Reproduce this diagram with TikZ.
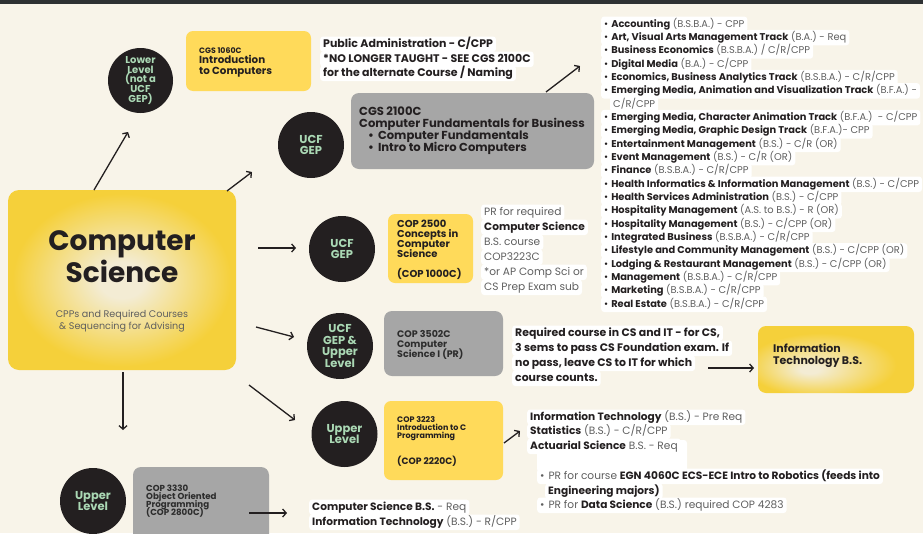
\documentclass[tikz,border=0pt]{standalone}
\usepackage{fontspec}
\setmainfont{Poppins}
\usetikzlibrary{arrows.meta,shapes.geometric}
\definecolor{bg}{RGB}{248,244,233}
\definecolor{ink}{RGB}{35,31,32}
\definecolor{mint}{RGB}{170,216,180}
\definecolor{yel}{RGB}{255,218,90}
\definecolor{csy}{RGB}{245,208,58}
\definecolor{csl}{RGB}{243,236,212}
\definecolor{gry}{RGB}{166,166,166}
\definecolor{txg}{RGB}{95,95,95}
\definecolor{dkg}{RGB}{45,45,45}
\definecolor{topbar}{RGB}{46,49,51}
\pgfdeclareradialshading{csshade}{\pgfpoint{0bp}{0bp}}{color(0bp)=(csl); color(5bp)=(csl); color(24bp)=(csy); color(50bp)=(csy)}
\pgfdeclareradialshading{itshade}{\pgfpoint{-9bp}{-8bp}}{color(0bp)=(csl); color(3bp)=(csl); color(24bp)=(csy); color(50bp)=(csy)}
\newcommand\fsz[2]{\fontsize{#1}{#2}\selectfont}
\newcommand\rl[4]{\node[hl,font=\fsz{9.85}{11}] (#1) at (601,#2) {\textbullet\hspace{3pt}\textbf{#3} {\color{txg}#4}};}
\tikzset{
  circ/.style={circle,fill=ink,minimum size=66pt,inner sep=0pt,text=mint,align=center,font=\bfseries\fsz{11.5}{11.7}},
  ybox/.style={fill=yel,rounded corners=7pt,inner sep=0pt},
  gbox/.style={fill=gry,rounded corners=8pt,inner sep=0pt},
  tl/.style={anchor=base west,inner sep=0pt,text=ink},
  hl/.style={anchor=base west,fill=white,rounded corners=3pt,inner xsep=3pt,inner ysep=2.5pt,text height=8pt,text depth=2.5pt,text=ink},
  arr/.style={draw=ink,line width=1.3pt,-{Straight Barb[length=3.5pt,width=8pt]}}
}
\begin{document}
\begin{tikzpicture}[x=1pt,y=-1pt]
\useasboundingbox (0,0) rectangle (923,533);
\fill[bg] (0,0) rectangle (923,533);
\fill[topbar] (0,0) rectangle (923,3.5);

% main box
\node[shade,shading=csshade,rounded corners=11pt,minimum width=228pt,minimum height=180pt,inner sep=0pt] (cs) at (122,280) {};
\node[anchor=base,inner sep=0pt,text=ink,font=\bfseries\fsz{28}{32}] (cst1) at (122,250) {Computer};
\node[anchor=base,inner sep=0pt,text=ink,font=\bfseries\fsz{28}{32}] (cst2) at (122,282) {Science};
\node[anchor=base,inner sep=0pt,text=txg,font=\fsz{9.6}{12}] (css1) at (122,317) {CPPs and Required Courses};
\node[anchor=base,inner sep=0pt,text=txg,font=\fsz{9.6}{12}] (css2) at (122,329) {\& Sequencing for Advising};

% circles
\node[circ,minimum size=65pt,font=\bfseries\fsz{10}{9.8}] (c1) at (140.5,80.5) {Lower\\Level\\(not a\\UCF\\GEP)};
\node[circ] (c2) at (311,145) {UCF\\GEP};
\node[circ] (c3) at (342,249) {UCF\\GEP};
\node[circ] (c4) at (340,346) {UCF\\GEP \&\\Upper\\Level};
\node[circ] (c5) at (344.5,434) {Upper\\Level};
\node[circ] (c6) at (93,501) {Upper\\Level};

% B1
\node[ybox,minimum width=125pt,minimum height=60pt] (b1) at (248.5,61) {};
\node[tl,font=\bfseries\fsz{7.8}{8}] (b1a) at (199,53) {CGS 1060C};
\node[tl,font=\bfseries\fsz{10.3}{11}] (b1b) at (199,63) {Introduction};
\node[tl,font=\bfseries\fsz{10.3}{11}] (b1c) at (199,74) {to Computers};

% T1
\node[hl,font=\bfseries\fsz{11}{12}] (t1a) at (320,47) {Public Administration - C/CPP};
\node[hl,font=\bfseries\fsz{11}{12}] (t1b) at (320,62) {*NO LONGER TAUGHT - SEE CGS 2100C};
\node[hl,font=\bfseries\fsz{11}{12}] (t1c) at (320,76) {for the alternate Course / Naming};

% B2
\node[gbox,minimum width=243pt,minimum height=76pt] (b2) at (472.5,131) {};
\node[tl,font=\bfseries\fsz{11.6}{12}] (b2a) at (359,115) {CGS 2100C};
\node[tl,font=\bfseries\fsz{11.6}{12}] (b2b) at (359,127) {Computer Fundamentals for Business};
\node[tl,font=\bfseries\fsz{11.6}{12}] (b2c) at (368,139) {\textbullet\hspace{4pt}Computer Fundamentals};
\node[tl,font=\bfseries\fsz{11.6}{12}] (b2d) at (368,151) {\textbullet\hspace{4pt}Intro to Micro Computers};

% right list
\rl{r0}{27}{Accounting}{(B.S.B.A.) - CPP}
\rl{r1}{40.33}{Art, Visual Arts Management Track}{(B.A.) - Req}
\rl{r2}{53.67}{Business Economics}{(B.S.B.A.) / C/R/CPP}
\rl{r3}{67}{Digital Media}{(B.A.) - C/CPP}
\rl{r4}{80.33}{Economics, Business Analytics Track}{(B.S.B.A.) - C/R/CPP}
\rl{r5}{93.67}{Emerging Media, Animation and Visualization Track}{(B.F.A.) -}
\node[hl,font=\fsz{9.85}{11}] (r6) at (610,107) {\color{txg}C/R/CPP};
\rl{r7}{120.33}{Emerging Media, Character Animation Track}{(B.F.A.)\ \ - C/CPP}
\rl{r8}{133.67}{Emerging Media, Graphic Design Track}{(B.F.A.)- CPP}
\rl{r9}{147}{Entertainment Management}{(B.S.) - C/R (OR)}
\rl{r10}{160.33}{Event Management}{(B.S.) - C/R (OR)}
\rl{r11}{173.67}{Finance}{(B.S.B.A.) - C/R/CPP}
\rl{r12}{187}{Health Informatics \& Information Management}{(B.S.) - C/CPP}
\rl{r13}{200.33}{Health Services Administration}{(B.S.) - C/CPP}
\rl{r14}{213.67}{Hospitality Management}{(A.S. to B.S.) - R (OR)}
\rl{r15}{227}{Hospitality Management}{(B.S.) - C/CPP (OR)}
\rl{r16}{240.33}{Integrated Business}{(B.S.B.A.) - C/R/CPP}
\rl{r17}{253.67}{Lifestyle and Community Management}{(B.S.) - C/CPP (OR)}
\rl{r18}{267}{Lodging \& Restaurant Management}{(B.S.) - C/CPP (OR)}
\rl{r19}{280.33}{Management}{(B.S.B.A.) - C/R/CPP}
\rl{r20}{293.67}{Marketing}{(B.S.B.A.) - C/R/CPP}
\rl{r21}{307}{Real Estate}{(B.S.B.A.) - C/R/CPP}

% B3
\node[ybox,minimum width=85pt,minimum height=69pt] (b3) at (430.5,248.5) {};
\node[tl,font=\bfseries\fsz{10}{10}] (b3a) at (397,227) {COP 2500};
\node[tl,font=\bfseries\fsz{10}{10}] (b3b) at (397,237) {Concepts in};
\node[tl,font=\bfseries\fsz{10}{10}] (b3c) at (397,247) {Computer};
\node[tl,font=\bfseries\fsz{10}{10}] (b3d) at (397,257) {Science};
\node[tl,font=\bfseries\fsz{10}{10}] (b3e) at (397,277) {(COP 1000C)};

% T3
\node[hl,font=\fsz{10.6}{11},text=txg] (t3a) at (481,215) {PR for required};
\node[hl,font=\bfseries\fsz{10.6}{11}] (t3b) at (481,230) {Computer Science};
\node[hl,font=\fsz{10.6}{11},text=txg] (t3c) at (481,245) {B.S. course};
\node[hl,font=\fsz{10.6}{11},text=txg] (t3d) at (481,260) {COP3223C};
\node[hl,font=\fsz{10.6}{11},text=txg] (t3e) at (481,275) {*or AP Comp Sci or};
\node[hl,font=\fsz{10.6}{11},text=txg] (t3f) at (481,290) {CS Prep Exam sub};

% B4
\node[gbox,minimum width=119pt,minimum height=65pt] (b4) at (443.5,343.5) {};
\node[tl,text=dkg,font=\bfseries\fsz{9.5}{10}] (b4a) at (397,337) {COP 3502C};
\node[tl,text=dkg,font=\bfseries\fsz{9.5}{10}] (b4b) at (397,347) {Computer};
\node[tl,text=dkg,font=\bfseries\fsz{9.5}{10}] (b4c) at (397,357) {Science I (PR)};

% T4
\node[hl,font=\bfseries\fsz{10.9}{12}] (t4a) at (512,336) {Required course in CS and IT - for CS,};
\node[hl,font=\bfseries\fsz{10.9}{12}] (t4b) at (512,351) {3 sems to pass CS Foundation exam. If};
\node[hl,font=\bfseries\fsz{10.9}{12}] (t4c) at (512,366) {no pass, leave CS to IT for which};
\node[hl,font=\bfseries\fsz{10.9}{12}] (t4d) at (512,381) {course counts.};

% B5
\node[shade,shading=itshade,rounded corners=8pt,minimum width=156pt,minimum height=67pt,inner sep=0pt] (b5) at (836,359.5) {};
\node[tl,font=\bfseries\fsz{11}{11}] (b5a) at (773,352) {Information};
\node[tl,font=\bfseries\fsz{11}{11}] (b5b) at (773,364) {Technology B.S.};

% B6
\node[ybox,minimum width=119pt,minimum height=79pt] (b6) at (443.5,440.5) {};
\node[tl,font=\bfseries\fsz{8}{9}] (b6a) at (397,422) {COP 3223};
\node[tl,font=\bfseries\fsz{8}{8}] (b6b) at (397,430) {Introduction to C};
\node[tl,font=\bfseries\fsz{8}{8}] (b6c) at (397,438) {Programming};
\node[tl,font=\bfseries\fsz{9.2}{10}] (b6d) at (397,464) {(COP 2220C)};

% T6
\fill[white,rounded corners=3pt] (537,440) rectangle (687,472);
\node[hl,font=\fsz{10.6}{11}] (t6a) at (527,420) {\textbf{Information Technology} {\color{txg}(B.S.) - Pre Req}};
\node[hl,font=\fsz{10.6}{11}] (t6b) at (527,434) {\textbf{Statistics} {\color{txg}(B.S.) - C/R/CPP}};
\node[hl,font=\fsz{10.6}{11}] (t6c) at (527,449) {\textbf{Actuarial Science} {\color{txg}B.S. - Req}};
\node[hl,font=\fsz{10.6}{11}] (t6d) at (537,479) {{\color{txg}\textbullet\hspace{4pt}PR for course} \textbf{EGN 4060C ECS-ECE Intro to Robotics (feeds into}};
\node[hl,font=\fsz{10.6}{11}] (t6e) at (545,494) {\textbf{Engineering majors)}};
\node[hl,font=\fsz{10.6}{11}] (t6f) at (537,508) {{\color{txg}\textbullet\hspace{4pt}PR for} \textbf{Data Science} {\color{txg}(B.S.) required COP 4283}};

% B7
\node[gbox,minimum width=136pt,minimum height=76pt] (b7) at (201,505) {};
\node[tl,text=dkg,font=\bfseries\fsz{8.7}{8}] (b7a) at (146,491) {COP 3330};
\node[tl,text=dkg,font=\bfseries\fsz{8.7}{8}] (b7b) at (146,499) {Object Oriented};
\node[tl,text=dkg,font=\bfseries\fsz{8.7}{8}] (b7c) at (146,507) {Programming};
\node[tl,text=dkg,font=\bfseries\fsz{8.7}{8}] (b7d) at (146,515) {(COP 2800C)};

% T7
\node[hl,font=\fsz{10.6}{11}] (t7a) at (309,510) {\textbf{Computer Science B.S.} {\color{txg}- Req}};
\node[hl,font=\fsz{10.6}{11}] (t7b) at (309,525) {\textbf{Information Technology} {\color{txg}(B.S.) - R/CPP}};

% arrow end points
\coordinate (a1s) at (94,190);   \coordinate (a1e) at (128,132);
\coordinate (a2s) at (227,191);  \coordinate (a2e) at (252,172);
\coordinate (a3s) at (258,248);  \coordinate (a3e) at (296,248);
\coordinate (a4s) at (256,327);  \coordinate (a4e) at (294,337);
\coordinate (a5s) at (123,372);  \coordinate (a5e) at (123,430);
\coordinate (a6s) at (249,385);  \coordinate (a6e) at (295,420);
\coordinate (a7s) at (546,92);   \coordinate (a7e) at (580,66);
\coordinate (a8s) at (708,368);  \coordinate (a8e) at (754,368);
\coordinate (a9s) at (504,443);  \coordinate (a9e) at (520,431);
\coordinate (a10s) at (249,513); \coordinate (a10e) at (287,513);
\foreach \i in {1,...,10} {\draw[arr] (a\i s) -- (a\i e);}
\end{tikzpicture}
\end{document}
